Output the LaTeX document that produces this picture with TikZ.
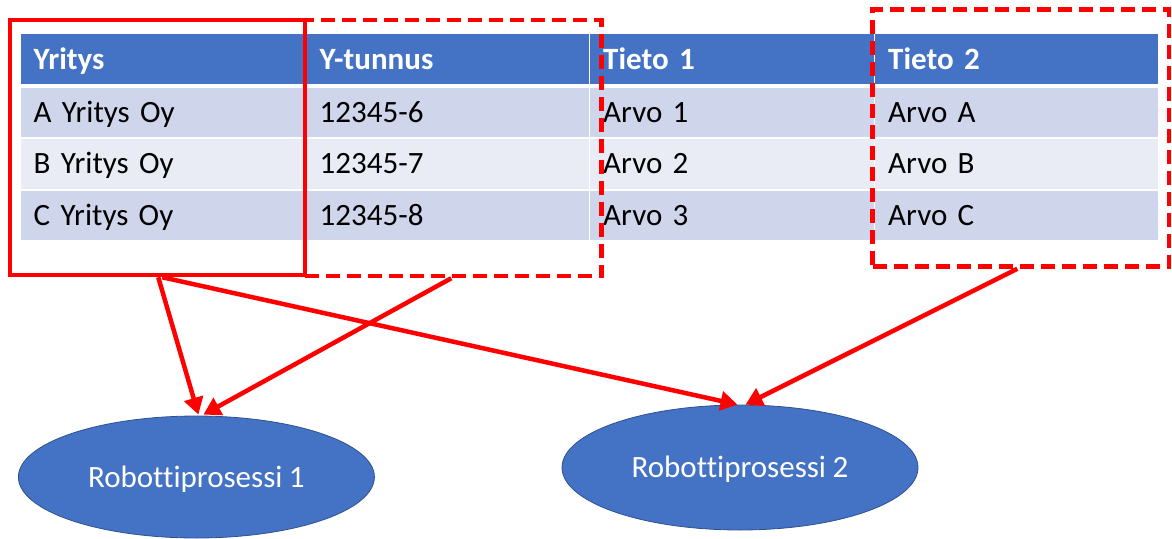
\documentclass[tikz,border=0pt]{standalone}
\usepackage{fontspec}
\setmainfont{Carlito}[Ligatures=NoCommon,RawFeature={-liga;-clig}]
\usetikzlibrary{arrows.meta,shapes.geometric,calc}
\definecolor{hdr}{HTML}{4472C4}
\definecolor{rowa}{HTML}{CFD5EA}
\definecolor{rowb}{HTML}{E9EBF5}
\definecolor{edgeblue}{HTML}{2F528F}
\definecolor{redline}{HTML}{FF0000}
\newcommand{\bigtxt}{\fontsize{31}{37}\selectfont\spaceskip=6.5pt\relax}
\begin{document}
\begin{tikzpicture}[x=1pt,y=-1pt,
  cellbase/.style={anchor=north west, inner xsep=13pt, inner ysep=0pt, align=left,
    text height=20pt, text depth=0pt, font=\bigtxt},
  hcell/.style={cellbase, fill=hdr, text=white, font=\bigtxt\bfseries, minimum height=50pt},
  acell/.style={cellbase, fill=rowa, text=black},
  bcell/.style={cellbase, fill=rowb, text=black},
  wA/.style={text width=258.5pt},
  wB/.style={text width=256pt},
  wC/.style={text width=257.5pt},
  wD/.style={text width=257pt},
  frame/.style={draw=redline, line width=4.5pt, inner sep=0pt, line join=miter},
  dframe/.style={frame, dash pattern=on 14pt off 7pt},
  proc/.style={ellipse, fill=hdr, draw=edgeblue, line width=0.8pt, text=white, inner sep=0pt,
    font=\bigtxt, text height=20pt, text depth=0pt},
  link/.style={draw=redline, line width=4.5pt, -{Triangle[length=17pt,width=19pt]}}
]
\useasboundingbox (0,0) rectangle (1172,538);
% header
\node[hcell,wA] (h1) at (20.5,34) {Yritys};
\node[hcell,wB] (h2) at (306.5,34) {Y-tunnus};
\node[hcell,wC] (h3) at (590,34) {Tieto 1};
\node[hcell,wD] (h4) at (875,34) {Tieto 2};
% row 1
\node[acell,wA,minimum height=49pt] (r11) at (20.5,87.5) {A Yritys Oy};
\node[acell,wB,minimum height=49pt] (r12) at (306.5,87.5) {12345-6};
\node[acell,wC,minimum height=49pt] (r13) at (590,87.5) {Arvo 1};
\node[acell,wD,minimum height=49pt] (r14) at (875,87.5) {Arvo A};
% row 2
\node[bcell,wA,minimum height=50.5pt] (r21) at (20.5,138.5) {B Yritys Oy};
\node[bcell,wB,minimum height=50.5pt] (r22) at (306.5,138.5) {12345-7};
\node[bcell,wC,minimum height=50.5pt] (r23) at (590,138.5) {Arvo 2};
\node[bcell,wD,minimum height=50.5pt] (r24) at (875,138.5) {Arvo B};
% row 3
\node[acell,wA,minimum height=49.5pt] (r31) at (20.5,190.5) {C Yritys Oy};
\node[acell,wB,minimum height=49.5pt] (r32) at (306.5,190.5) {12345-8};
\node[acell,wC,minimum height=49.5pt] (r33) at (590,190.5) {Arvo 3};
\node[acell,wD,minimum height=49.5pt] (r34) at (875,190.5) {Arvo C};
% frames
\node[dframe, minimum width=296.5pt, minimum height=256pt] (f2) at (453.25,148) {};
\node[frame, minimum width=295pt, minimum height=255pt] (f1) at (157.5,147.5) {};
\node[dframe, minimum width=296.4pt, minimum height=257.2pt] (f3) at (1020.8,137.9) {};
% processes
\node[proc, minimum width=356pt, minimum height=122pt] (e1) at (196.4,477) {Robottiprosessi 1};
\node[proc, minimum width=356pt, minimum height=125pt] (e2) at (740,467.5) {Robottiprosessi 2};
% connector ends
\coordinate (a1) at ($(f1.south west)+(150.5,0)$);
\coordinate (a3) at ($(f1.south west)+(154.5,0)$);
\coordinate (a2) at ($(f2.south west)+(148.5,0)$);
\coordinate (a4) at ($(f3.south west)+(147,0)$);
\coordinate (t1) at ($(e1.north)+(2,-1)$);
\coordinate (t2) at ($(e1.north)+(7,-1)$);
\coordinate (t3) at ($(e2.north)+(-2.5,0)$);
\coordinate (t4) at ($(e2.north)+(5.5,0)$);
\draw[link] (a1) -- (t1);
\draw[link] (a2) -- (t2);
\draw[link] (a3) -- (t3);
\draw[link] (a4) -- (t4);
\end{tikzpicture}
\end{document}
